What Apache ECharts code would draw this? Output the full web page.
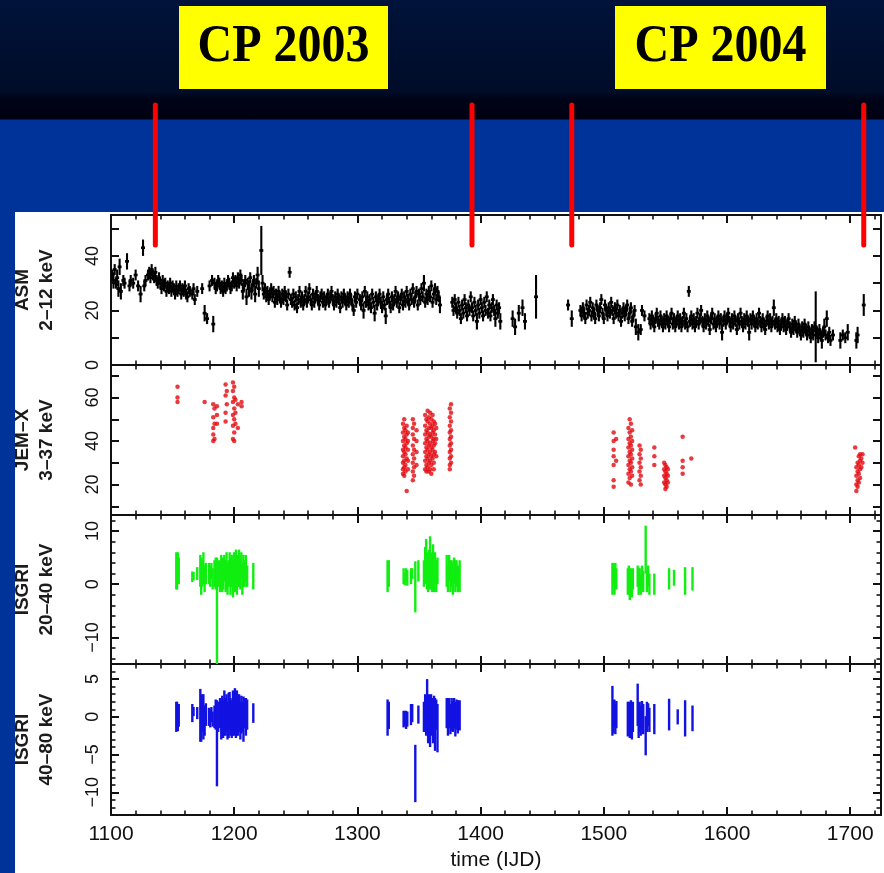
<!DOCTYPE html>
<html>
<head>
<meta charset="utf-8">
<script src="https://cdn.jsdelivr.net/npm/echarts@6/dist/echarts.min.js"></script>
<style>
  html, body { margin: 0; padding: 0; }
  body {
    width: 884px; height: 873px; overflow: hidden; position: relative;
    background: linear-gradient(to bottom, #00133a 0px, #000c28 92px, #000418 98px, #000012 119px, #003399 120px, #003399 873px);
  }
  #sheet { position: absolute; left: 15px; top: 212px; width: 869px; height: 661px; background: #ffffff; }
  #chart { position: absolute; left: 0; top: 0; width: 884px; height: 873px; }
</style>
</head>
<body>
<div id="sheet"></div>
<div id="chart"></div>
<script>
// ---- light-curve data: [day (IJD), rate, 1-sigma error] ----
const asmPoints = [
  [1101,33,2],[1102,31,3],[1103,35,2],[1104,30,2],[1105,32,3],[1106,28,3],[1107,36,3],[1108,27,3],[1110,31,2],[1111,30,2],
  [1113,38,3],[1115,29,2],[1116,31,2],[1118,30,2],[1120,33,2],[1122,29,2],[1124,26,3],[1126,43,3],[1127,29,2],[1128,31,2],
  [1130,33,2],[1131,34,2],[1132,32,2],[1133,35,2],[1134,33,2],[1135,32,2],[1136,34,2],[1137,31,2],[1138,30,2],[1139,32,2],
  [1140,30,2],[1141,28,2],[1142,31,2],[1143,29,2],[1144,30,2],[1145,27,2],[1146,29,2],[1147,28,2],[1148,30,2],[1149,27,2],
  [1150,29,2],[1151,28,2],[1152,26,2],[1153,29,2],[1154,27,2],[1155,28,2],[1156,29,2],[1157,26,2],[1158,28,2],[1159,27,2],
  [1160,29,2],[1161,26,2],[1162,25,2],[1163,28,2],[1164,27,2],[1166,26,2],[1167,28,2],[1168,24,2],[1170,27,2],
  [1174,28,2],[1176,19,3],[1178,17,2],[1183,15,3],
  [1180,29,2],[1182,31,2],[1184,30,2],[1185,28,2],[1186,29,2],[1187,31,2],[1188,30,2],[1189,28,2],[1190,29,2],[1191,27,2],
  [1192,30,2],[1193,28,2],[1194,29,2],[1195,31,2],[1196,30,2],[1197,28,2],[1198,29,2],[1199,32,2],[1200,30,2],[1201,31,2],
  [1202,29,2],[1203,32,2],[1204,30,2],[1205,33,2],[1206,31,2],[1207,27,3],[1208,29,2],[1209,31,2],[1210,25,3],[1211,30,2],
  [1212,28,3],[1213,32,2],[1214,27,3],[1215,29,2],[1216,31,2],[1217,26,3],[1218,30,2],[1219,33,3],[1220,28,3],[1222,42,9],
  [1223,30,3],[1224,26,2],[1225,28,2],[1226,25,2],[1227,27,2],[1228,24,2],[1229,26,2],[1230,28,2],[1231,25,2],[1232,27,2],
  [1233,23,2],[1234,26,2],[1235,24,2],[1236,27,2],[1237,25,2],[1238,23,2],[1239,26,2],[1240,24,2],[1241,27,2],[1242,25,2],
  [1243,22,2],[1244,26,2],[1245,34,2],[1246,24,2],[1247,23,2],[1248,26,2],[1249,22,2],[1250,25,2],[1251,21,2],[1252,24,2],
  [1253,27,2],[1254,23,2],[1255,25,2],[1256,22,2],[1257,24,2],[1258,27,2],[1259,23,2],[1260,25,2],[1261,28,2],[1262,24,2],
  [1263,22,2],[1264,26,2],[1265,23,2],[1266,25,2],[1267,27,2],[1268,24,2],[1269,22,2],[1270,25,2],[1271,26,2],[1272,23,2],
  [1273,25,2],[1274,22,2],[1275,24,2],[1276,26,2],[1277,23,2],[1278,25,2],[1279,27,2],[1280,24,2],[1281,22,2],[1282,25,2],
  [1283,23,2],[1284,26,2],[1285,24,2],[1286,21,2],[1287,25,2],[1288,23,2],[1289,26,2],[1290,24,2],[1291,22,2],[1292,25,2],
  [1293,23,2],[1294,26,2],[1295,24,2],[1296,22,2],[1297,20,2],[1298,25,2],[1299,23,2],[1300,26,2],
  [1302,24,2],[1303,22,2],[1304,25,2],[1305,20,3],[1306,27,2],[1307,23,2],[1308,25,2],[1309,22,2],[1310,24,2],[1311,21,2],
  [1312,26,2],[1313,23,2],[1314,19,3],[1315,25,2],[1316,22,2],[1317,24,2],[1318,26,2],[1319,23,2],[1320,21,2],[1321,25,2],
  [1322,22,2],[1323,18,3],[1324,24,2],[1325,26,2],[1326,23,2],[1327,21,2],[1328,25,2],[1329,22,2],[1330,24,2],[1331,27,2],
  [1332,23,2],[1333,25,2],[1334,21,2],[1335,24,2],[1336,26,2],[1337,22,2],[1338,25,2],[1339,23,2],[1340,27,2],[1341,24,2],
  [1342,22,2],[1343,26,2],[1344,24,2],[1345,28,2],[1346,23,2],[1347,25,2],[1348,27,2],[1349,22,2],[1350,26,2],[1351,24,2],
  [1352,28,2],[1353,25,2],[1354,30,3],[1355,23,2],[1356,26,2],[1357,24,2],[1358,27,2],[1359,25,2],[1360,29,2],[1361,23,2],
  [1362,26,2],[1363,28,2],[1364,24,2],[1365,27,2],[1366,25,2],[1367,22,3],
  [1377,23,2],[1378,20,2],[1379,24,2],[1380,21,2],[1381,19,2],[1382,23,2],[1383,20,2],[1384,17,2],[1385,22,2],[1386,19,2],
  [1387,24,2],[1388,21,2],[1389,18,2],[1390,22,2],[1391,20,2],[1392,25,2],[1393,21,2],[1394,18,2],[1395,23,2],[1396,20,2],
  [1397,16,3],[1398,22,2],[1399,19,2],[1400,24,2],[1401,21,2],[1402,18,2],[1403,23,2],[1404,20,2],[1405,25,2],[1406,19,2],
  [1407,22,2],[1408,18,2],[1409,21,2],[1410,24,2],[1411,20,2],[1412,17,3],[1413,22,2],[1414,19,2],[1415,21,2],[1416,16,3],
  [1426,17,3],[1428,14,3],[1431,19,3],[1434,21,3],[1436,16,3],[1445,25,8],
  [1471,22,2],[1474,17,3],
  [1481,20,2],[1482,18,2],[1483,21,2],[1484,19,2],[1485,17,2],[1486,22,2],[1487,19,2],[1488,20,2],[1489,23,2],[1490,18,2],
  [1491,21,2],[1492,19,2],[1493,17,2],[1494,22,2],[1495,20,2],[1496,18,2],[1497,21,2],[1498,24,2],[1499,19,2],[1500,17,2],
  [1501,22,2],[1502,20,2],[1503,18,2],[1504,21,2],[1505,19,2],[1506,23,2],[1507,20,2],[1508,17,2],[1509,21,2],[1510,19,2],
  [1511,22,2],[1512,18,2],[1513,20,2],[1514,16,2],[1515,19,2],[1516,21,2],[1517,18,2],[1518,20,2],[1519,22,2],[1520,17,2],
  [1521,19,2],[1522,21,2],[1523,16,2],[1524,18,2],[1525,20,2],[1526,14,3],[1528,12,3],[1530,13,2],[1531,20,2],[1533,18,2],
  [1537,17,2],[1538,15,2],[1539,18,2],[1540,16,2],[1541,14,2],[1542,17,2],[1543,19,2],[1544,16,2],[1545,15,2],[1546,18,2],
  [1547,16,2],[1548,14,2],[1549,17,2],[1550,15,2],[1551,18,2],[1552,16,2],[1553,14,2],[1554,17,2],[1555,19,2],[1556,15,2],
  [1557,17,2],[1558,14,2],[1559,16,2],[1560,18,2],[1561,15,2],[1562,17,2],[1563,14,2],[1564,16,2],[1565,19,2],[1566,15,2],
  [1567,17,2],[1568,14,2],[1569,27,2],[1570,16,2],[1571,18,2],[1572,15,2],[1573,17,2],[1574,14,2],[1575,16,2],[1576,19,2],
  [1577,15,2],[1578,17,2],[1579,20,2],[1580,16,2],[1581,14,2],[1582,17,2],[1583,15,2],[1584,18,2],[1585,16,2],[1586,13,2],
  [1587,17,2],[1588,19,2],[1589,15,2],[1590,17,2],[1591,14,2],[1592,16,2],[1593,18,2],[1594,15,2],[1595,17,2],[1596,12,3],
  [1597,16,2],[1598,18,2],[1599,15,2],[1600,17,2],[1601,19,2],[1602,16,2],[1603,14,2],[1604,17,2],[1605,15,2],[1606,18,2],
  [1607,16,2],[1608,13,2],[1609,17,2],[1610,15,2],[1611,19,2],[1612,16,2],[1613,14,2],[1614,17,2],[1615,15,2],[1616,18,2],
  [1617,16,2],[1618,12,3],[1619,17,2],[1620,15,2],[1621,18,2],[1622,16,2],[1623,14,2],[1624,17,2],[1625,15,2],[1626,19,2],
  [1627,16,2],[1628,14,2],[1629,17,2],[1630,15,2],[1631,13,2],[1632,16,2],[1633,18,2],[1634,15,2],[1635,17,2],[1636,14,2],
  [1637,16,2],[1638,21,3],[1639,15,2],[1640,17,2],[1641,14,2],[1642,16,2],[1643,13,2],[1644,15,2],[1645,17,2],[1646,14,2],
  [1647,16,2],[1648,13,2],[1649,15,2],[1650,17,2],[1651,14,2],[1652,12,2],[1653,15,2],[1654,13,2],[1655,16,2],[1656,14,2],
  [1657,12,2],[1658,15,2],[1659,13,2],[1660,11,2],[1661,14,2],[1662,12,2],[1663,15,2],[1664,13,2],[1665,11,2],[1666,14,2],
  [1667,12,2],[1668,10,2],[1669,13,2],[1670,11,2],[1671,14,2],[1672,14,13],[1673,12,2],[1674,10,2],[1675,13,2],[1676,11,2],
  [1677,9,3],[1678,12,2],[1679,14,3],[1680,11,2],[1681,17,3],[1682,10,2],[1683,12,2],[1684,9,2],
  [1686,11,2],[1692,9,3],[1694,11,2],[1696,10,2],[1698,12,3],[1705,9,3],[1706,11,3],[1711,22,4]
];

// JEM-X: [day, rate]
const jemxPoints = [
  [1154,65],[1154,60],[1154,58],[1176,58],
  [1183,57],[1183,51],[1183,46],[1183,43],[1183,40],[1184,55],[1184,48],[1184,41],[1186,56],[1186,52],[1186,48],
  [1193,66],[1193,61],[1193,53],[1193,49],[1194,63],[1194,57],
  [1199,67],[1199,63],[1199,58],[1199,52],[1199,47],[1199,41],[1200,65],[1200,60],[1200,55],[1200,50],[1200,44],[1200,40],
  [1201,59],[1201,53],[1201,48],[1203,57],[1203,46],[1206,58],[1206,56],
  [1337,48],[1337,44],[1337,40],[1337,36],[1337,33],[1337,30],[1337,27],[1337,25],
  [1338,50],[1338,46],[1338,42],[1338,38],[1338,35],[1338,31],[1338,28],[1338,24],
  [1339,45],[1339,41],[1339,37],[1339,34],[1339,29],[1339,26],
  [1340,47],[1340,43],[1340,39],[1340,32],[1340,17],
  [1341,44],[1341,40],[1341,36],[1341,31],[1341,27],
  [1345,50],[1345,46],[1345,43],[1345,38],[1345,34],[1345,30],[1345,26],[1345,22],
  [1346,48],[1346,41],[1346,36],[1346,32],[1346,28],[1346,24],
  [1348,45],[1348,40],[1348,35],[1348,29],
  [1355,52],[1355,47],[1355,43],[1355,39],[1355,35],[1355,31],[1355,27],
  [1356,50],[1356,45],[1356,41],[1356,37],[1356,33],[1356,29],[1356,26],
  [1357,54],[1357,49],[1357,44],[1357,40],[1357,36],[1357,32],[1357,28],
  [1358,51],[1358,46],[1358,42],[1358,38],[1358,34],[1358,30],[1358,26],
  [1359,53],[1359,48],[1359,43],[1359,39],[1359,35],[1359,31],[1359,27],
  [1360,50],[1360,46],[1360,42],[1360,37],[1360,33],[1360,29],[1360,25],
  [1361,52],[1361,47],[1361,44],[1361,40],[1361,36],[1361,32],
  [1362,49],[1362,45],[1362,41],[1362,38],[1362,34],[1362,30],[1362,27],
  [1363,48],[1363,43],[1363,39],[1363,35],[1364,46],[1364,41],[1364,33],
  [1375,55],[1375,51],[1375,47],[1375,44],[1375,41],[1375,38],[1375,35],[1375,32],[1375,29],[1375,27],
  [1376,57],[1376,53],[1376,49],[1376,45],[1376,42],[1376,39],[1376,36],[1376,33],[1376,30],
  [1508,44],[1508,40],[1508,36],[1508,33],[1508,29],[1508,22],[1508,19],[1510,41],[1510,31],
  [1520,46],[1520,41],[1520,37],[1520,33],[1520,29],[1520,25],[1520,21],
  [1521,50],[1521,44],[1521,39],[1521,35],[1521,31],[1521,27],[1521,23],
  [1522,48],[1522,42],[1522,38],[1522,34],[1522,30],[1522,26],[1522,20],
  [1523,45],[1523,40],[1523,36],[1523,32],[1523,28],[1523,24],
  [1529,38],[1529,34],[1529,30],[1529,26],[1529,22],[1530,36],[1530,32],[1530,28],[1530,24],[1530,20],
  [1541,37],[1541,33],[1541,29],
  [1549,30],[1549,27],[1549,24],[1549,21],[1550,29],[1550,26],[1550,23],[1550,20],[1550,18],
  [1551,28],[1551,25],[1551,22],[1551,19],[1552,27],[1552,24],[1552,21],
  [1564,42],[1564,31],[1564,28],[1564,25],[1571,32],
  [1704,37],[1705,28],[1705,24],[1705,20],[1705,17],[1706,30],[1706,26],[1706,22],[1706,19],
  [1707,33],[1707,29],[1707,25],[1707,21],[1708,34],[1708,31],[1708,27],[1708,23],[1709,32],[1709,28],[1710,34],[1710,30]
];

// ISGRI 20-40 keV: [day, rate, error]
const isgriLowPoints = [
  [1153.0,2.5,3.5],[1153.6,2.0,3.0],[1154.2,3.0,3.0],[1155.0,2.5,2.5],[1166.0,1.4,1.0],[1167.0,1.5,0.8],[1170.0,2.0,1.2],
  [1172.5,2.5,3.0],[1173.2,1.5,3.5],[1174.0,2.0,2.5],[1175.0,3.0,3.0],[1176.0,1.0,2.5],[1177.0,2.0,2.0],
  [1179.5,2.0,2.0],[1180.5,1.5,2.0],[1181.5,2.5,1.5],[1182.5,1.0,2.0],[1184.0,2.0,2.5],[1185.0,2.0,3.0],
  [1186.0,-5.0,10.0],[1187.0,2.0,2.5],[1188.5,1.5,3.0],[1189.5,2.5,3.0],[1190.3,1.0,2.5],[1191.0,2.0,3.0],
  [1192.0,3.0,2.5],[1193.0,1.5,3.0],[1193.8,2.5,3.5],[1194.6,1.0,3.0],[1195.5,2.0,2.5],[1196.3,3.0,3.0],
  [1197.0,1.5,3.5],[1198.0,2.5,3.0],[1199.0,1.0,3.5],[1199.8,3.0,3.0],[1200.6,2.0,3.5],[1201.4,3.5,3.0],
  [1202.2,1.5,3.5],[1203.0,2.5,3.0],[1204.0,3.0,3.5],[1205.0,2.0,3.0],[1205.8,3.5,2.5],[1206.6,1.0,3.0],
  [1207.5,2.5,3.0],[1208.5,2.0,2.5],[1209.5,3.0,2.5],[1210.5,1.5,2.0],[1215.5,1.5,2.5],
  [1324.5,1.5,3.0],[1325.5,2.0,2.5],[1337.5,1.5,1.5],[1338.5,1.0,1.2],[1339.5,1.8,1.2],[1340.5,1.2,1.5],
  [1343.5,1.5,1.5],[1344.5,2.0,1.0],[1347.0,-0.5,4.8],[1349.5,2.5,2.0],
  [1354.0,2.0,2.5],[1355.0,3.5,3.5],[1355.8,4.5,4.0],[1356.6,2.5,3.5],[1357.4,1.5,3.0],[1358.2,3.0,3.5],
  [1359.0,4.0,5.0],[1359.8,2.5,3.5],[1360.6,1.5,3.0],[1361.4,3.5,4.0],[1362.2,2.0,3.5],[1363.0,3.0,3.0],
  [1364.0,1.5,3.0],[1365.0,2.5,2.5],
  [1372.5,2.5,3.0],[1373.5,1.0,2.5],[1374.5,3.0,2.5],[1375.5,1.5,3.0],[1376.5,2.0,2.5],[1377.5,1.0,3.0],
  [1378.5,2.5,2.5],[1379.5,1.5,3.0],[1380.5,2.0,2.5],[1381.5,1.0,2.5],[1383.0,1.5,3.0],
  [1507.0,1.0,3.0],[1507.8,2.0,2.0],[1508.6,0.5,2.5],[1509.4,1.5,2.5],[1510.2,1.0,2.0],
  [1519.5,0.5,2.5],[1520.3,1.5,2.0],[1521.1,-0.5,2.5],[1522.0,1.0,2.0],[1522.8,0.0,2.5],[1523.6,1.0,2.0],
  [1527.5,1.5,2.0],[1528.3,0.5,2.5],[1529.1,1.0,2.0],[1530.0,0.0,2.0],[1531.0,1.5,2.0],[1532.0,0.5,2.0],
  [1534.0,6.5,4.5],[1535.0,0.5,2.0],[1536.0,1.5,2.0],[1537.0,0.0,2.0],[1541.0,0.0,2.0],
  [1553.0,1.0,2.0],[1557.0,1.2,1.5],[1566.0,0.6,2.6],[1572.0,1.0,2.2]
];

// ISGRI 40-80 keV: [day, rate, error]
const isgriHighPoints = [
  [1153.0,0.0,2.0],[1153.6,0.5,1.5],[1154.2,-0.3,1.6],[1155.0,0.2,1.5],[1166.0,0.5,1.2],[1167.0,0.7,0.6],[1170.0,0.5,0.8],
  [1172.5,0.2,3.5],[1173.2,-0.3,3.0],[1174.0,0.5,2.5],[1175.0,0.0,3.0],[1176.0,-0.5,2.0],[1177.0,0.3,1.5],
  [1179.5,0.0,1.2],[1180.5,-0.2,1.2],[1181.5,0.3,1.0],[1182.5,-0.3,1.0],[1184.0,0.0,1.5],[1185.0,0.3,2.0],
  [1186.0,-3.5,5.7],[1187.0,0.0,2.0],[1188.5,0.5,2.0],[1189.5,-0.5,2.5],[1190.3,0.3,2.5],[1191.0,-0.3,2.5],
  [1192.0,0.5,3.0],[1193.0,0.0,2.5],[1193.8,0.5,2.5],[1194.6,-0.5,2.5],[1195.5,0.2,3.0],[1196.3,0.8,2.5],
  [1197.0,0.0,2.5],[1198.0,-0.3,2.5],[1199.0,0.5,3.0],[1199.8,0.0,2.5],[1200.6,0.8,3.0],[1201.4,-0.3,2.5],
  [1202.2,0.5,3.0],[1203.0,0.0,2.5],[1204.0,0.5,2.5],[1205.0,-0.5,2.5],[1205.8,0.3,2.5],[1206.6,0.0,2.0],
  [1207.5,-0.3,3.0],[1208.5,0.5,2.0],[1209.5,0.0,2.5],[1210.5,0.3,2.0],[1215.5,0.5,1.3],
  [1324.5,-0.1,2.4],[1325.5,0.2,1.8],[1337.5,-0.3,1.1],[1338.5,-0.2,1.0],[1339.5,-0.4,1.2],[1340.5,-0.3,1.0],
  [1343.5,0.3,1.4],[1344.5,0.5,1.2],[1347.0,-7.5,3.8],[1349.5,0.3,1.2],
  [1354.0,0.0,2.0],[1355.0,0.5,2.5],[1355.8,0.0,2.5],[1356.6,1.5,3.5],[1357.4,-0.5,3.0],[1358.2,0.5,2.5],
  [1359.0,-1.0,3.0],[1359.8,0.5,2.5],[1360.6,0.0,2.5],[1361.4,-0.5,3.0],[1362.2,0.8,2.0],[1363.0,-1.0,3.5],
  [1364.0,0.3,2.0],[1365.0,-1.5,3.2],
  [1372.5,0.5,2.0],[1373.5,0.0,2.5],[1374.5,0.5,2.0],[1375.5,-0.3,2.0],[1376.5,0.3,2.2],[1377.5,0.0,2.0],
  [1378.5,0.5,2.0],[1379.5,-0.3,2.3],[1380.5,0.3,2.0],[1381.5,0.0,2.2],[1383.0,0.2,2.0],
  [1507.0,0.8,3.3],[1507.8,0.0,2.2],[1508.6,0.5,1.8],[1509.4,-0.3,2.0],[1510.2,0.3,1.8],
  [1519.5,-0.3,2.3],[1520.3,0.0,2.0],[1521.1,-0.5,2.3],[1522.0,0.2,2.0],[1522.8,-0.6,2.4],[1523.6,0.0,2.0],
  [1527.5,1.6,2.8],[1528.3,-0.5,2.3],[1529.1,0.0,2.0],[1530.0,-0.5,2.0],[1531.0,0.3,1.8],[1532.0,-0.3,2.0],
  [1534.0,-2.5,2.6],[1535.0,0.0,2.0],[1536.0,0.3,1.5],[1537.0,-0.4,1.6],[1541.0,-0.3,2.0],
  [1553.0,0.3,2.1],[1560.0,0.0,1.0],[1566.0,-0.2,2.4],[1572.0,-0.2,1.7]
];

// Core Programme boundaries (IJD) and period labels
const cpEdges = [1136, 1393, 1474, 1711];
const cpLabels = ['CP 2003', 'CP 2004'];

// Axis ticks and labels
const timeRange = [1100, 1725];
const timeMajorTicks = [1100, 1200, 1300, 1400, 1500, 1600, 1700];
const timeMinorTicks = [1120, 1140, 1160, 1180, 1220, 1240, 1260, 1280, 1320, 1340, 1360, 1380,
  1420, 1440, 1460, 1480, 1520, 1540, 1560, 1580, 1620, 1640, 1660, 1680, 1720];

const panelNames = ['ASM\n2–12 keV', 'JEM–X\n3–37 keV', 'ISGRI\n20–40 keV', 'ISGRI\n40–80 keV'];
const panelRanges = [[0, 55], [6, 75], [-15, 13], [-13, 7]];
const panelLabels = [[0, 20, 40], [20, 40, 60], [-10, 0, 10], [-10, -5, 0, 5]];
const panelMajorTicks = [[0, 10, 20, 30, 40, 50], [10, 20, 30, 40, 50, 60, 70], [-10, 0, 10], [-10, -5, 0, 5]];
const panelMinorTicks = [[], [], [-14, -12, -8, -6, -4, -2, 2, 4, 6, 8, 12],
  [-12, -11, -9, -8, -7, -6, -4, -3, -2, -1, 1, 2, 3, 4, 6]];

// ---- layout ----
const gridBoxes = [
  { top: 215, height: 150 },
  { top: 365, height: 150 },
  { top: 515, height: 149 },
  { top: 664, height: 151 }
];
const INK = '#111111';
const FONT = '"Liberation Sans", Arial, sans-serif';

function plainNumber(v) {
  return v < 0 ? '\u2212' + Math.abs(v) : String(v);
}

function timeAxis(g, position, ticks, len, withLabels) {
  const major = len > 6;
  return {
    type: 'value', gridIndex: g, position: position,
    min: timeRange[0], max: timeRange[1],
    axisLine: { show: major, onZero: false, lineStyle: { color: INK, width: 2 } },
    axisTick: { show: true, inside: true, length: len, customValues: ticks,
      lineStyle: { color: INK, width: major ? 2 : 1.6 } },
    splitLine: { show: false },
    axisLabel: withLabels
      ? { show: true, customValues: timeMajorTicks, formatter: plainNumber, margin: 9,
          color: '#111111', fontSize: 21, fontFamily: FONT }
      : { show: false },
    name: withLabels ? 'time (IJD)' : '',
    nameLocation: 'middle', nameGap: 35,
    nameTextStyle: { color: '#111111', fontSize: 21, fontFamily: FONT }
  };
}

function rateAxis(g, position, ticks, len, withLabels) {
  const major = len > 6;
  return {
    type: 'value', gridIndex: g, position: position,
    min: panelRanges[g][0], max: panelRanges[g][1],
    axisLine: { show: major, onZero: false, lineStyle: { color: INK, width: 2 } },
    axisTick: { show: ticks.length > 0, inside: true, length: len, customValues: ticks,
      lineStyle: { color: INK, width: major ? 2 : 1.6 } },
    splitLine: { show: false },
    axisLabel: withLabels
      ? { show: true, customValues: panelLabels[g], formatter: plainNumber, rotate: 90, margin: 9,
          color: '#111111', fontSize: 18, fontFamily: FONT }
      : { show: false },
    name: withLabels ? panelNames[g] : '',
    nameLocation: 'middle', nameRotate: 90, nameGap: 52,
    nameTextStyle: { color: '#1c1c1c', fontSize: 19, fontWeight: 'bold', lineHeight: 24, fontFamily: FONT }
  };
}

const grids = [], xAxes = [], yAxes = [];
gridBoxes.forEach(function (b, g) {
  grids.push({ left: 111, right: 3, top: b.top, height: b.height, outerBoundsMode: 'none' });
  xAxes.push(timeAxis(g, 'bottom', timeMajorTicks, 8, g === 3));
  xAxes.push(timeAxis(g, 'bottom', timeMinorTicks, 4.5, false));
  xAxes.push(timeAxis(g, 'top', timeMajorTicks, 8, false));
  xAxes.push(timeAxis(g, 'top', timeMinorTicks, 4.5, false));
  yAxes.push(rateAxis(g, 'left', panelMajorTicks[g], 8, true));
  yAxes.push(rateAxis(g, 'left', panelMinorTicks[g], 4.5, false));
  yAxes.push(rateAxis(g, 'right', panelMajorTicks[g], 8, false));
  yAxes.push(rateAxis(g, 'right', panelMinorTicks[g], 4.5, false));
});

// vertical error bar (+ optional horizontal time-bin tick) for each point
function errorBars(capHalfDays, color, width) {
  return function (params, api) {
    const t = api.value(0), v = api.value(1), e = api.value(2);
    const hi = api.coord([t, v + e]);
    const lo = api.coord([t, v - e]);
    const style = { stroke: color, lineWidth: width, lineCap: 'butt' };
    const children = [{ type: 'line', shape: { x1: hi[0], y1: hi[1], x2: lo[0], y2: lo[1] }, style: style }];
    if (capHalfDays > 0) {
      const l = api.coord([t - capHalfDays, v]);
      const r = api.coord([t + capHalfDays, v]);
      children.push({ type: 'line', shape: { x1: l[0], y1: l[1], x2: r[0], y2: r[1] },
        style: { stroke: color, lineWidth: width + 0.6, lineCap: 'butt' } });
    }
    return { type: 'group', children: children };
  };
}

const series = [
  { type: 'custom', name: 'ASM', xAxisIndex: 0, yAxisIndex: 0, clip: true,
    renderItem: errorBars(1.6, '#000000', 2.1), encode: { x: 0, y: 1 }, data: asmPoints },
  { type: 'scatter', name: 'JEM-X', xAxisIndex: 4, yAxisIndex: 4, clip: true,
    symbol: 'circle', symbolSize: 4.5, itemStyle: { color: '#e20a10' }, data: jemxPoints },
  { type: 'custom', name: 'ISGRI 20-40', xAxisIndex: 8, yAxisIndex: 8, clip: true,
    renderItem: errorBars(0, '#11ee11', 2.4), encode: { x: 0, y: 1 }, data: isgriLowPoints },
  { type: 'custom', name: 'ISGRI 40-80', xAxisIndex: 12, yAxisIndex: 12, clip: true,
    renderItem: errorBars(0, '#1212e2', 2.4), encode: { x: 0, y: 1 }, data: isgriHighPoints }
];

const chart = echarts.init(document.getElementById('chart'), null, { renderer: 'canvas' });
chart.setOption({
  animation: false,
  backgroundColor: 'transparent',
  grid: grids,
  xAxis: xAxes,
  yAxis: yAxes,
  series: series
});

// Core Programme markers drawn above the plot
const boxes = [
  { x: 179, w: 209 },
  { x: 615, w: 211 }
];
const overlay = [];
boxes.forEach(function (b, i) {
  overlay.push({ type: 'rect', z: 100, shape: { x: b.x, y: 6, width: b.w, height: 83 }, style: { fill: '#ffff00' } });
  overlay.push({ type: 'text', z: 101, x: b.x + b.w / 2, y: 47, scaleY: 1.1,
    style: { text: cpLabels[i], fill: '#000000', align: 'center', verticalAlign: 'middle',
      fontSize: 48, fontWeight: 'bold', fontFamily: '"Liberation Serif", "Times New Roman", serif' } });
});
cpEdges.forEach(function (d) {
  const px = chart.convertToPixel({ xAxisIndex: 0 }, d);
  overlay.push({ type: 'line', z: 102, shape: { x1: px, y1: 105, x2: px, y2: 245 },
    style: { stroke: '#ff0000', lineWidth: 5, lineCap: 'round' } });
});
chart.setOption({ graphic: overlay });
</script>
</body>
</html>
